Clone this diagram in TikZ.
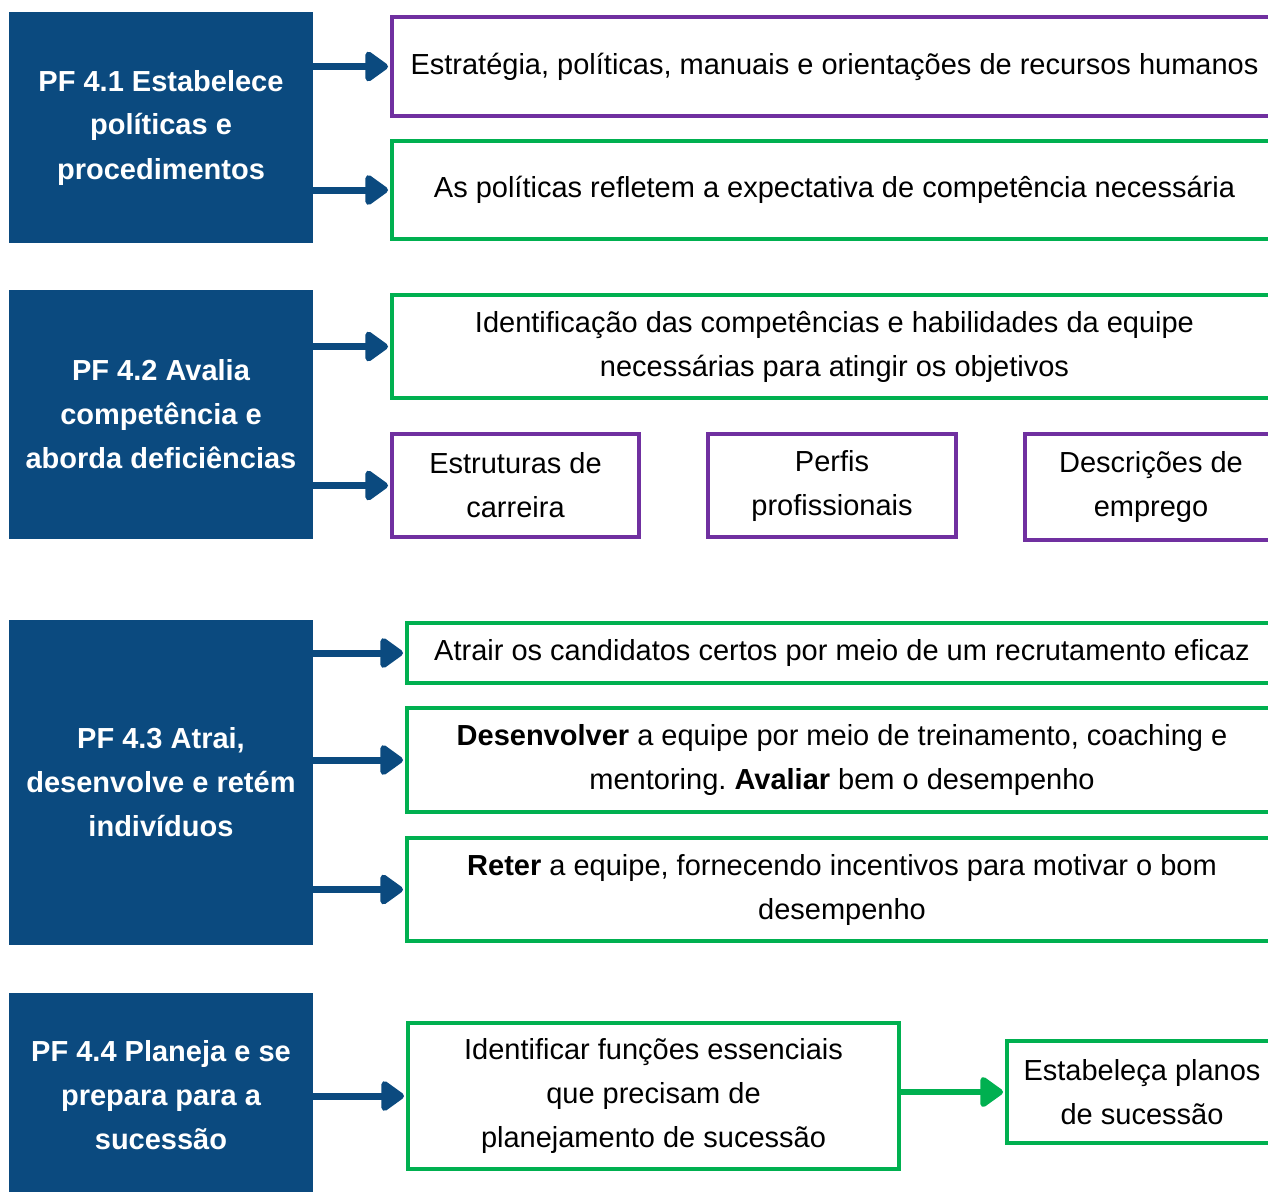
\documentclass[tikz,border=0pt]{standalone}
\usepackage{fontspec}
\setmainfont{Liberation Sans}
\frenchspacing
\usetikzlibrary{arrows.meta}
\definecolor{pfblue}{HTML}{0B4A7F}
\definecolor{pfgreen}{HTML}{00B050}
\definecolor{pfpurple}{HTML}{7030A0}

\begin{document}
\begin{tikzpicture}[
    x=1pt, y=-1pt,
    every node/.style={
        font=\fontsize{29}{44}\selectfont,
        align=center,
        inner sep=0pt,
    },
    pfbox/.style={fill=pfblue, text=white, font=\fontsize{29}{44}\selectfont\bfseries, minimum width=304pt},
    greenbox/.style={draw=pfgreen, line width=4pt},
    purplebox/.style={draw=pfpurple, line width=4pt},
    pfarrow/.style={draw=pfblue, line width=7pt, shorten >=2pt, -{Triangle[round, length=25pt, width=34pt]}},
    steparrow/.style={draw=pfgreen, line width=6pt, shorten >=2pt, -{Triangle[round, length=25pt, width=34pt]}},
]
    \fill[white] (0,0) rectangle (1268,1191);
    \useasboundingbox (0,0) rectangle (1268,1191);

    % PF 4.1
    \node[pfbox, minimum height=231pt] (pf1) at (161,127.5) {PF 4.1 Estabelece\\políticas e\\procedimentos};
    \node[purplebox, minimum width=885pt, minimum height=99pt] (estrat) at (834.5,66.5)
        {Estratégia, políticas, manuais e orientações de recursos humanos};
    \node[greenbox, minimum width=885pt, minimum height=98pt] (expect) at (834.5,190)
        {As políticas refletem a expectativa de competência necessária};
    \draw[pfarrow] (pf1.east |- estrat.west) -- (estrat.west);
    \draw[pfarrow] (pf1.east |- expect.west) -- (expect.west);

    % PF 4.2
    \node[pfbox, minimum height=249pt] (pf2) at (161,414.5) {PF 4.2 Avalia\\competência e\\aborda deficiências};
    \node[greenbox, minimum width=885pt, minimum height=103pt] (ident) at (834.5,346.5)
        {Identificação das competências e habilidades da equipe\\necessárias para atingir os objetivos};
    \node[purplebox, minimum width=247pt, minimum height=103pt] (carreira) at (515.5,485.5)
        {Estruturas de\\carreira};
    \node[purplebox, minimum width=248pt, minimum height=103pt] (perfis) at (832,485.5)
        {Perfis\\profissionais};
    \node[purplebox, minimum width=252pt, minimum height=106pt] (descr) at (1151,487)
        {Descrições de\\emprego};
    \draw[pfarrow] (pf2.east |- ident.west) -- (ident.west);
    \draw[pfarrow] (pf2.east |- carreira.west) -- (carreira.west);

    % PF 4.3
    \node[pfbox, minimum height=325pt] (pf3) at (161,782.5) {PF 4.3 Atrai,\\desenvolve e retém\\indivíduos};
    \node[greenbox, minimum width=870pt, minimum height=60pt] (atrair) at (842,653)
        {Atrair os candidatos certos por meio de um recrutamento eficaz};
    \node[greenbox, minimum width=870pt, minimum height=104pt] (desenv) at (842,760)
        {\textbf{Desenvolver} a equipe por meio de treinamento, coaching e\\mentoring. \textbf{Avaliar} bem o desempenho};
    \node[greenbox, minimum width=870pt, minimum height=103pt] (reter) at (842,889.5)
        {\textbf{Reter} a equipe, fornecendo incentivos para motivar o bom\\desempenho};
    \draw[pfarrow] (pf3.east |- atrair.west) -- (atrair.west);
    \draw[pfarrow] (pf3.east |- desenv.west) -- (desenv.west);
    \draw[pfarrow] (pf3.east |- reter.west) -- (reter.west);

    % PF 4.4
    \node[pfbox, minimum height=204pt] (pf4) at (161,1095) {PF 4.4 Planeja e se\\prepara para a\\sucessão};
    \node[greenbox, minimum width=491pt, minimum height=146pt] (funcoes) at (653.5,1096)
        {Identificar funções essenciais\\que precisam de\\planejamento de sucessão};
    \node[greenbox, minimum width=270pt, minimum height=102pt] (planos) at (1142,1092)
        {Estabeleça planos\\de sucessão};
    \draw[pfarrow] (pf4.east |- funcoes.west) -- (funcoes.west);
    \draw[steparrow] (funcoes.east |- planos.west) -- (planos.west);
\end{tikzpicture}
\end{document}
